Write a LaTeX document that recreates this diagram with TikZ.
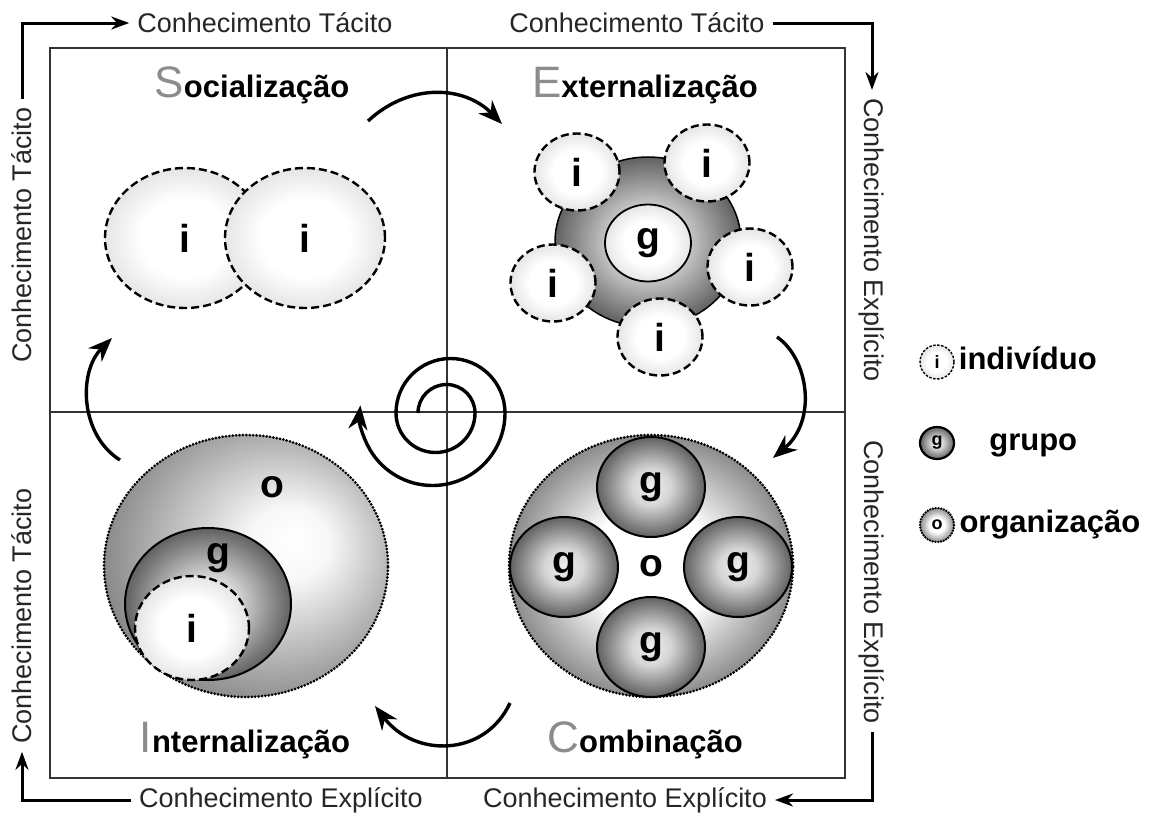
\documentclass[tikz,border=0pt]{standalone}
\usepackage{fontspec}
\setmainfont{Liberation Sans}
\usetikzlibrary{arrows.meta,positioning,shapes.geometric}
\tikzset {>=Stealth}

\pgfdeclareradialshading{ishade}{\pgfpoint{0bp}{0bp}}{color(0bp)=(white); color(14bp)=(white); color(25bp)=(black!10); color(50bp)=(black!10)}
\pgfdeclareradialshading{gshade}{\pgfpoint{0bp}{0bp}}{color(0bp)=(black!7); color(9bp)=(black!16); color(25bp)=(black!62); color(50bp)=(black!62)}
\pgfdeclareradialshading{oshade}{\pgfpoint{0bp}{0bp}}{color(0bp)=(white); color(11bp)=(white); color(25bp)=(black!45); color(50bp)=(black!45)}
\pgfdeclareradialshading{ointshade}{\pgfpoint{9bp}{5bp}}{color(0bp)=(white); color(7bp)=(black!3); color(30bp)=(black!48); color(50bp)=(black!48)}

\newcommand{\quadtitle}[2]{{\color{black!45}\fontsize{44}{44}\selectfont #1}{\bfseries\fontsize{31}{33}\selectfont #2}}

\tikzset{
  lbl/.style={font=\fontsize{27}{29}\selectfont, text=black!85, inner sep=8pt},
  letter/.style={font=\bfseries\fontsize{39}{40}\selectfont, inner sep=0pt},
  indiv/.style={ellipse, draw, line width=2.4pt, dash pattern=on 8pt off 4pt, shading=ishade, letter},
  grp/.style={ellipse, draw, line width=2pt, shading=gshade, letter},
  org/.style={ellipse, draw, line width=3pt, line cap=round, dash pattern=on 0pt off 3.4pt, letter},
  legtxt/.style={font=\bfseries\fontsize{31}{32}\selectfont, inner sep=0pt, text height=22pt, text depth=7pt},
  cycle arrow/.style={line width=3.4pt, -{Stealth[length=24pt,width=19pt]}},
  side arrow/.style={line width=3pt, -{Stealth[length=18pt,width=13pt]}}
}

\begin{document}
\begin{tikzpicture}[x=1pt,y=-1pt]
\useasboundingbox (0,0) rectangle (1160,817);

% quadrants
\draw[line width=2.2pt, black!80] (50,48) rectangle (845,778);
\draw[line width=2.2pt, black!80] (447,48) -- (447,778) (50,412) -- (845,412);

% side labels
\node[lbl] (tacT1) at (265,23) {Conhecimento Tácito};
\node[lbl] (tacT2) at (637,23) {Conhecimento Tácito};
\node[lbl, rotate=90] (tacL1) at (22,235) {Conhecimento Tácito};
\node[lbl, rotate=90] (tacL2) at (22,616) {Conhecimento Tácito};
\node[lbl, rotate=-90] (expR1) at (872,240) {Conhecimento Explícito};
\node[lbl, rotate=-90] (expR2) at (872,582) {Conhecimento Explícito};
\node[lbl] (expB1) at (281,800) {Conhecimento Explícito};
\node[lbl] (expB2) at (625,800) {Conhecimento Explícito};

\draw[side arrow] (tacL1.east) |- (tacT1.west);
\draw[side arrow] (tacT2.east) -| (expR1.west);
\draw[side arrow] (expR2.east) |- (expB2.east);
\draw[side arrow] (expB1.west) -| (tacL2.west);

% titles
\node[anchor=base] (soc) at (252,97) {\quadtitle{S}{ocialização}};
\node[anchor=base] (ext) at (645,97) {\quadtitle{E}{xternalização}};
\node[anchor=base] (int) at (245,752) {\quadtitle{I}{nternalização}};
\node[anchor=base] (com) at (645,752) {\quadtitle{C}{ombinação}};

% socializacao
\node[indiv, minimum width=160, minimum height=140] (s1) at (185,238) {i};
\node[indiv, minimum width=160, minimum height=140] (s2) at (305,238) {i};

% externalizacao
\node[ellipse, draw, line width=1.5pt, shading=gshade, minimum width=186, minimum height=170] (eg) at (648,242) {};
\node[ellipse, draw, line width=1.8pt, shading=ishade, letter, minimum width=86, minimum height=77] (eg0) at (648,243) {g};
\foreach \n/\p in {1/{(577,172)}, 2/{(707,163)}, 3/{(750,267)}, 4/{(660,337)}, 5/{(553,283)}}
  \node[indiv, minimum width=85, minimum height=77] (ei\n) at \p {i};

% combinacao
\node[org, shading=oshade, minimum width=284, minimum height=262] (co) at (651,566) {o};
\foreach \n/\p in {1/{(651,487)}, 2/{(564,567)}, 3/{(738,567)}, 4/{(651,647)}}
  \node[grp, minimum width=108, minimum height=100] (cg\n) at \p {g};

% internalizacao
\node[org, shading=ointshade, minimum width=284, minimum height=262] (io) at (246,566) {};
\node[ellipse, draw, line width=2pt, shading=gshade, minimum width=166, minimum height=152] (ig) at (208,604) {};
\node[indiv, minimum width=114, minimum height=104] (ii) at (192,628) {i};
\node[letter] (io-o) at (272,487) {o};
\node[letter] (ig-g) at (218,558) {g};

% cycle
\coordinate (se1) at (368,121);
\coordinate (se2) at (502,124);
\coordinate (ec1) at (777,337);
\coordinate (ec2) at (773,458);
\coordinate (ci1) at (510,703);
\coordinate (ci2) at (375,706);
\coordinate (is1) at (120,460);
\coordinate (is2) at (112,338);
\draw[cycle arrow] (se1) .. controls (410,82) and (465,86) .. (se2);
\draw[cycle arrow] (ec1) .. controls (808,358) and (818,420) .. (ec2);
\draw[cycle arrow] (ci1) .. controls (485,757) and (415,758) .. (ci2);
\draw[cycle arrow] (is1) .. controls (80,435) and (78,372) .. (is2);

% spiral
\coordinate (sp) at (418,413);
\draw[cycle arrow] (sp) arc (180:360:28.5) arc (0:180:39.5) arc (180:360:54.5) arc (0:186:72.5);

% legend
\node[indiv, minimum width=34, minimum height=34, line width=1.4pt, dash pattern=on 2.5pt off 1.5pt, font=\bfseries\fontsize{18}{18}\selectfont] (leg-i) at (937,362) {i};
\node[grp, minimum width=34, minimum height=32, line width=2.2pt, font=\bfseries\fontsize{18}{18}\selectfont] (leg-g) at (937,443) {g};
\node[org, shading=oshade, minimum width=34, minimum height=34, line width=2.6pt, dash pattern=on 0pt off 2.8pt, font=\bfseries\fontsize{18}{18}\selectfont] (leg-o) at (937,525) {o};
\node[legtxt, right=4pt of leg-i] (leg-i-txt) {indivíduo};
\node[legtxt, right=34pt of leg-g] (leg-g-txt) {grupo};
\node[legtxt, right=4pt of leg-o] (leg-o-txt) {organização};
\end{tikzpicture}
\end{document}
